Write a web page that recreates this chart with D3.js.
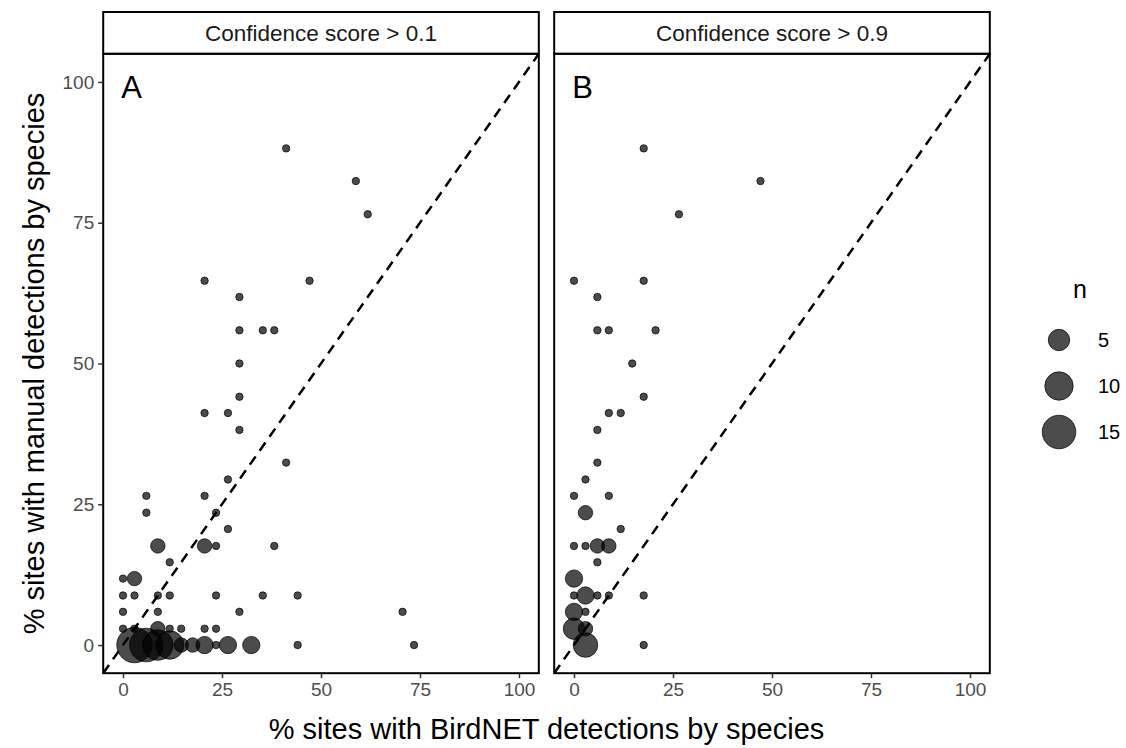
<!DOCTYPE html>
<html lang="en">
<head>
<meta charset="UTF-8">
<title>BirdNET vs manual detections</title>
<script src="https://d3js.org/d3.v7.min.js"></script>
<style>
  body { margin: 0; background: #fff; }
  text { font-family: "Liberation Sans", Arial, Helvetica, sans-serif; }
</style>
</head>
<body>
<svg id="chart" width="1126" height="748"></svg>
<script>
// % sites (out of 34) per species, grouped by n = number of species at that spot
var panelTitles = ["Confidence score > 0.1", "Confidence score > 0.9"];
var panelLetters = ["A", "B"];
var tickValues = [0, 25, 50, 75, 100];
var legendValues = [5, 10, 15];

// panel A (score > 0.1)
var birdnetA = [41.2, 58.8, 61.8, 20.6, 47.1, 29.4, 29.4, 35.3, 38.2, 29.4, 29.4, 20.6, 26.5, 29.4, 41.2,
  26.5, 5.9, 20.6, 5.9, 23.5, 26.5, 8.8, 20.6, 23.5, 38.2, 11.8, 0, 2.9, 0, 2.9, 8.8, 11.8, 23.5, 35.3, 44.1,
  0, 8.8, 29.4, 70.6, 0, 2.9, 8.8, 11.8, 14.7, 20.6, 23.5,
  2.9, 5.9, 8.8, 11.8, 14.7, 17.6, 20.6, 23.5, 26.5, 32.4, 44.1, 73.5];
var manualA = [88.2, 82.4, 76.5, 64.7, 64.7, 61.8, 55.9, 55.9, 55.9, 50, 44.1, 41.2, 41.2, 38.2, 32.4,
  29.4, 26.5, 26.5, 23.5, 23.5, 20.6, 17.6, 17.6, 17.6, 17.6, 14.7, 11.8, 11.8, 8.8, 8.8, 8.8, 8.8, 8.8, 8.8, 8.8,
  5.9, 5.9, 5.9, 5.9, 2.9, 2.9, 2.9, 2.9, 2.9, 2.9, 2.9,
  0, 0, 0, 0, 0, 0, 0, 0, 0, 0, 0, 0];
var nA = [1, 1, 1, 1, 1, 1, 1, 1, 1, 1, 1, 1, 1, 1, 1,
  1, 1, 1, 1, 1, 1, 2, 2, 1, 1, 1, 1, 2, 1, 1, 1, 1, 1, 1, 1,
  1, 1, 1, 1, 1, 1, 2, 1, 1, 1, 1,
  17, 15, 12, 10, 2, 2, 3, 1, 3, 3, 1, 1];

// panel B (score > 0.9)
var birdnetB = [17.6, 47.1, 26.5, 0, 17.6, 5.9, 5.9, 8.8, 20.6, 14.7, 17.6, 8.8, 11.8, 5.9, 5.9,
  2.9, 0, 8.8, 2.9, 11.8, 0, 2.9, 5.9, 8.8, 5.9, 0, 0, 2.9, 5.9, 8.8, 17.6,
  0, 2.9, 0, 2.9, 2.9, 17.6];
var manualB = [88.2, 82.4, 76.5, 64.7, 64.7, 61.8, 55.9, 55.9, 55.9, 50, 44.1, 41.2, 41.2, 38.2, 32.4,
  29.4, 26.5, 26.5, 23.5, 20.6, 17.6, 17.6, 17.6, 17.6, 14.7, 11.8, 8.8, 8.8, 8.8, 8.8, 8.8,
  5.9, 5.9, 2.9, 2.9, 0, 0];
var nB = [1, 1, 1, 1, 1, 1, 1, 1, 1, 1, 1, 1, 1, 1, 1,
  1, 1, 1, 2, 1, 1, 1, 2, 2, 1, 3, 1, 3, 1, 1, 1,
  3, 1, 5, 2, 7, 1];

var svg = d3.select("#chart");
var panelLefts = [103.2, 554.2];
var panelW = 435.6;
var yTop = 53.8, yBot = 673.2;
var stripTop = 12;

var y = d3.scaleLinear().domain([-5, 105]).range([yBot, yTop]);
// size: area scale, n from 1..17
var rScale = d3.scaleSqrt().domain([0, 16]).range([0, 14]);
function radius(n) { return 3.7 + rScale(n - 1); }

function drawPanel(i, xs, ys, ns) {
  var x = d3.scaleLinear().domain([-5, 105]).range([panelLefts[i], panelLefts[i] + panelW]);
  var g = svg.append("g");
  var clipId = "clip" + i;
  svg.append("clipPath").attr("id", clipId)
    .append("rect")
    .attr("x", x(-5)).attr("y", yTop)
    .attr("width", panelW).attr("height", yBot - yTop);

  // strip
  g.append("rect")
    .attr("x", x(-5)).attr("y", stripTop)
    .attr("width", panelW).attr("height", yTop - stripTop)
    .attr("fill", "#fff").attr("stroke", "#000").attr("stroke-width", 2);
  g.append("text")
    .attr("x", x(50)).attr("y", (stripTop + yTop) / 2)
    .attr("dy", "0.36em")
    .attr("text-anchor", "middle")
    .style("font-size", "22.5px")
    .style("fill", "#1a1a1a")
    .text(panelTitles[i]);

  var pts = d3.range(xs.length).map(function(j) { return {x: xs[j], y: ys[j], n: ns[j]}; });
  pts.sort(function(a, b) { return b.n - a.n; });

  var inner = g.append("g").attr("clip-path", "url(#" + clipId + ")");
  inner.selectAll("circle")
    .data(pts)
    .enter()
    .append("circle")
    .attr("cx", function(d) { return x(d.x); })
    .attr("cy", function(d) { return y(d.y); })
    .attr("r", function(d) { return radius(d.n); })
    .style("fill", "#000")
    .style("fill-opacity", 0.7)
    .style("stroke", "#000")
    .style("stroke-opacity", 0.7)
    .style("stroke-width", 1);

  inner.append("line")
    .attr("x1", x(-5)).attr("y1", y(-5))
    .attr("x2", x(105)).attr("y2", y(105))
    .style("stroke", "#000")
    .style("stroke-width", 2.5)
    .style("stroke-dasharray", "10,7");

  // panel border
  g.append("rect")
    .attr("x", x(-5)).attr("y", yTop)
    .attr("width", panelW).attr("height", yBot - yTop)
    .attr("fill", "none").attr("stroke", "#000").attr("stroke-width", 2);

  g.append("text")
    .attr("x", x(-5) + 18).attr("y", y(100) + 16)
    .style("font-size", "31px")
    .style("fill", "#000")
    .text(panelLetters[i]);

  // x axis
  var xAxis = g.append("g")
    .attr("transform", "translate(0," + yBot + ")")
    .call(d3.axisBottom(x).tickValues(tickValues).tickSize(5).tickPadding(4));
  xAxis.select(".domain").remove();
  xAxis.selectAll(".tick line").attr("stroke", "#333").attr("stroke-width", 1.5);
  xAxis.selectAll(".tick text")
    .style("font-size", "19px").style("fill", "#4d4d4d")
    .style("font-family", "'Liberation Sans', Arial, sans-serif");

  if (i === 0) {
    var yAxis = g.append("g")
      .attr("transform", "translate(" + x(-5) + ",0)")
      .call(d3.axisLeft(y).tickValues(tickValues).tickSize(5).tickPadding(4));
    yAxis.select(".domain").remove();
    yAxis.selectAll(".tick line").attr("stroke", "#333").attr("stroke-width", 1.5);
    yAxis.selectAll(".tick text")
      .style("font-size", "19px").style("fill", "#4d4d4d")
      .style("font-family", "'Liberation Sans', Arial, sans-serif");
  }
}

drawPanel(0, birdnetA, manualA, nA);
drawPanel(1, birdnetB, manualB, nB);

// axis titles
svg.append("text")
  .attr("x", (panelLefts[0] + panelLefts[1] + panelW) / 2)
  .attr("y", 739)
  .attr("text-anchor", "middle")
  .style("font-size", "29px")
  .style("fill", "#000")
  .text("% sites with BirdNET detections by species");

svg.append("text")
  .attr("transform", "translate(44," + ((yTop + yBot) / 2) + ") rotate(-90)")
  .attr("text-anchor", "middle")
  .style("font-size", "29px")
  .style("fill", "#000")
  .text("% sites with manual detections by species");

// legend
var legend = svg.append("g");
legend.append("text")
  .attr("x", 1073).attr("y", 298)
  .style("font-size", "25px")
  .style("fill", "#000")
  .text("n");
var legendY = [340, 386, 432];
legend.selectAll("circle")
  .data(legendValues)
  .enter()
  .append("circle")
  .attr("cx", 1059)
  .attr("cy", function(d, k) { return legendY[k]; })
  .attr("r", function(d) { return radius(d); })
  .style("fill", "#000")
  .style("fill-opacity", 0.7)
  .style("stroke", "#000")
  .style("stroke-opacity", 0.7)
  .style("stroke-width", 1);
legend.selectAll(".lab")
  .data(legendValues)
  .enter()
  .append("text")
  .attr("class", "lab")
  .attr("x", 1098)
  .attr("y", function(d, k) { return legendY[k]; })
  .attr("dy", "0.36em")
  .style("font-size", "20px")
  .style("fill", "#000")
  .text(function(d) { return d; });
</script>
</body>
</html>
